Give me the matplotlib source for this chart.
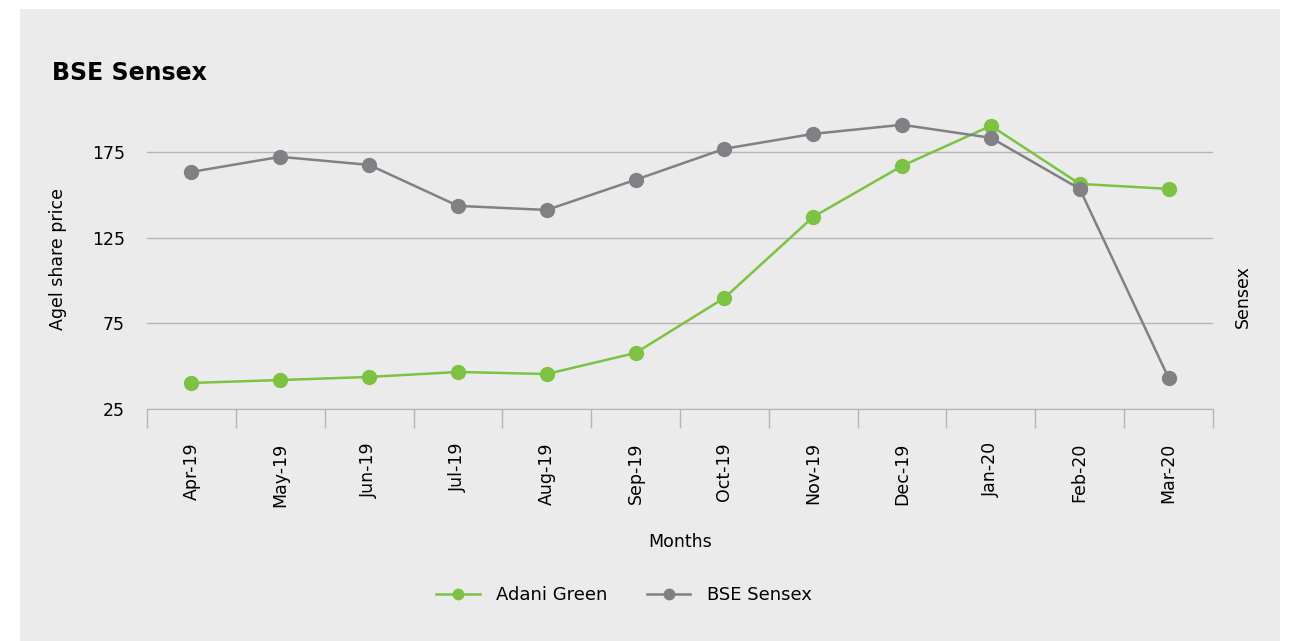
import matplotlib.pyplot as plt
from matplotlib.patches import Rectangle

months = ["Apr-19", "May-19", "Jun-19", "Jul-19", "Aug-19", "Sep-19",
          "Oct-19", "Nov-19", "Dec-19", "Jan-20", "Feb-20", "Mar-20"]
adani_green = [40.2, 41.9, 43.7, 46.6, 45.4, 57.7,
               89.8, 137.1, 166.8, 190.2, 156.3, 153.4]
bse_sensex = [163.3, 172.1, 167.4, 143.5, 141.1, 158.7,
              176.8, 185.5, 190.8, 183.2, 153.4, 43.1]
y_ticks = [25, 75, 125, 175]

green = "#7dc242"
grey = "#818185"
panel = "#ebebeb"

plt.rcParams['font.family'] = ['DejaVu Sans']

fig = plt.figure(figsize=(13, 6.41), dpi=100)
fig.patch.set_facecolor("white")
fig.patches.append(Rectangle((20 / 1300, 0), 1260 / 1300, 632 / 641,
                             transform=fig.transFigure, facecolor=panel,
                             edgecolor="none", zorder=-10))

ax = fig.add_axes([147 / 1300, 232 / 641, 1066 / 1300, 300 / 641])
ax.set_facecolor(panel)
ax.patch.set_alpha(0)

xs = list(range(len(months)))
ax.plot(xs, adani_green, color=green, lw=1.8, marker="o", ms=10,
        label="Adani Green", zorder=3)
ax.plot(xs, bse_sensex, color=grey, lw=1.8, marker="o", ms=10,
        label="BSE Sensex", zorder=3)

ax.set_xlim(-0.5, len(months) - 0.5)
ax.set_ylim(25, 200)
ax.set_yticks(y_ticks)
ax.set_xticks(xs)
ax.set_xticklabels(months, rotation=90, fontsize=12.5)
ax.set_xticks([i - 0.5 for i in range(len(months) + 1)], minor=True)
ax.tick_params(axis="x", which="major", length=0, pad=24)
ax.tick_params(axis="x", which="minor", length=14, color="#b5b5b5", width=1)
ax.tick_params(axis="y", length=0, labelsize=12.5, pad=16)

ax.grid(axis="y", color="#b5b5b5", lw=1)
for side in ["top", "right", "left"]:
    ax.spines[side].set_visible(False)
ax.spines["bottom"].set_color("#b5b5b5")
ax.set_axisbelow(True)

ax.set_xlabel("Months", fontsize=12.5, labelpad=19)
ax.set_ylabel("Agel share price", fontsize=12.5, labelpad=18)

fig.text(1243 / 1300, 1 - 297 / 641, "Sensex", rotation=90, fontsize=12.5,
         ha="center", va="center")
fig.text(52 / 1300, 1 - 73 / 641, "BSE Sensex", fontsize=17,
         fontweight="bold", ha="left", va="center")

fig.legend(loc="center", bbox_to_anchor=(624 / 1300, 1 - 595 / 641), ncol=2,
           frameon=False, fontsize=13, handlelength=2.4, handletextpad=0.9,
           columnspacing=2.2, markerscale=0.75)

fig.savefig("out.png", dpi=100, facecolor=fig.get_facecolor())
